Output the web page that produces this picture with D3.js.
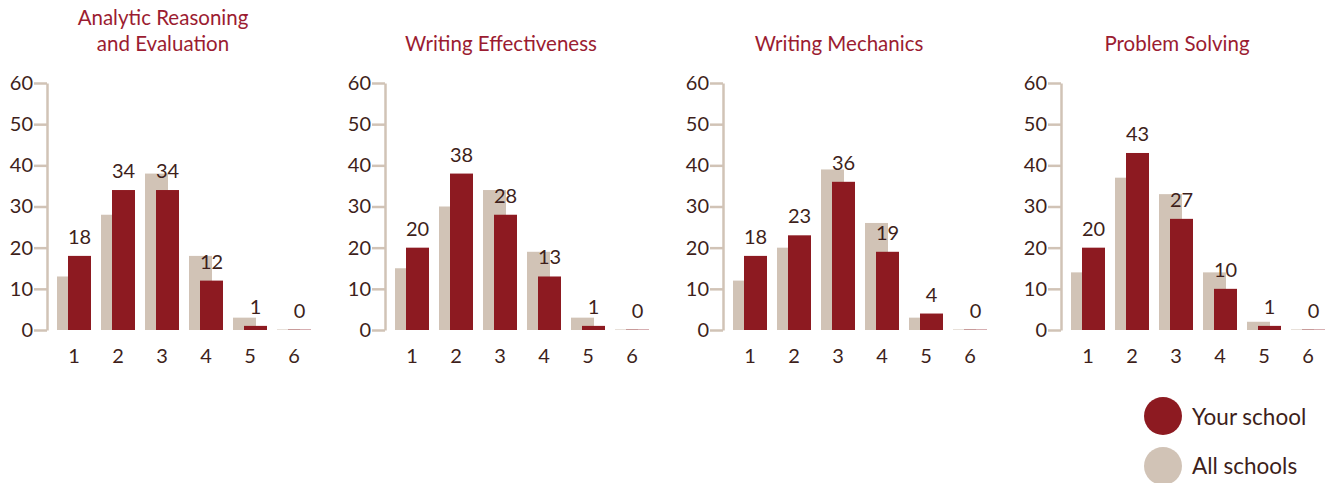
<!DOCTYPE html>
<html>
<head>
<meta charset="utf-8">
<script src="https://cdn.jsdelivr.net/npm/d3@7"></script>
<style>
  html, body { margin: 0; padding: 0; background: #ffffff; }
  svg { display: block; font-family: Lato, "Open Sans", sans-serif; }
</style>
</head>
<body>
<svg id="chart" width="1334" height="483"></svg>
<script>
// Score categories (1–6) and the percentage of students in each
const categories = ["1", "2", "3", "4", "5", "6"];
const panelTitles = [
  ["Analytic Reasoning", "and Evaluation"],
  ["Writing Effectiveness"],
  ["Writing Mechanics"],
  ["Problem Solving"]
];
const yourSchool = [
  [18, 34, 34, 12, 1, 0],
  [20, 38, 28, 13, 1, 0],
  [18, 23, 36, 19, 4, 0],
  [20, 43, 27, 10, 1, 0]
];
const allSchools = [
  [13, 28, 38, 18, 3, 0],
  [15, 30, 34, 19, 3, 0],
  [12, 20, 39, 26, 3, 0],
  [14, 37, 33, 14, 2, 0]
];
const yTicks = [0, 10, 20, 30, 40, 50, 60];
const legendLabels = ["Your school", "All schools"];

const RED = "#8d1a21";
const BEIGE = "#d1c3b6";
const INK = "#3e1f1b";
const TITLE = "#9b1c31";

const svg = d3.select("#chart");

const y = d3.scaleLinear().domain([0, 60]).range([330, 83]);
const panelStep = 338;
const firstAxisX = 47;
const barW = 23;
const redShift = 11;

panelTitles.forEach((title, i) => {
  const ax = firstAxisX + i * panelStep;
  const g = svg.append("g").attr("transform", `translate(${ax},0)`);

  // category bands: 44px step, 34px wide pair of overlapping bars
  const x = d3.scaleBand()
    .domain(categories)
    .range([5, 5 + 264])
    .paddingInner(10 / 44)
    .paddingOuter(5 / 44);

  // title
  const t = g.append("text")
    .attr("x", 116)
    .attr("text-anchor", "middle")
    .attr("fill", TITLE)
    .attr("font-size", 20.5);
  const lines = title.length === 1 ? [null, title[0]] : title;
  lines.forEach((ln, k) => {
    if (ln) t.append("tspan").attr("x", 116).attr("y", 25 + k * 26).text(ln);
  });

  // y axis
  const axis = d3.axisLeft(y).tickValues(yTicks).tickSize(13).tickSizeOuter(0).tickPadding(1);
  const ag = g.append("g").call(axis);
  ag.select(".domain").attr("stroke", BEIGE).attr("stroke-width", 2.5);
  ag.selectAll(".tick line").attr("stroke", BEIGE).attr("stroke-width", 2.5);
  ag.selectAll(".tick text").attr("fill", INK).attr("font-size", 20)
    .attr("font-family", "Lato, 'Open Sans', sans-serif");

  // all-schools bars (behind)
  g.selectAll(".all").data(allSchools[i]).join("rect")
    .attr("x", (d, j) => x(categories[j]))
    .attr("width", barW)
    .attr("y", d => d === 0 ? y(0) - 1 : y(d))
    .attr("height", d => d === 0 ? 1 : y(0) - y(d))
    .attr("fill", BEIGE)
    .attr("opacity", d => d === 0 ? 0.5 : 1);

  // your-school bars (front)
  g.selectAll(".your").data(yourSchool[i]).join("rect")
    .attr("x", (d, j) => x(categories[j]) + redShift)
    .attr("width", barW)
    .attr("y", d => d === 0 ? y(0) - 1 : y(d))
    .attr("height", d => d === 0 ? 1 : y(0) - y(d))
    .attr("fill", RED)
    .attr("opacity", d => d === 0 ? 0.35 : 1);

  // value labels above your-school bars
  g.selectAll(".val").data(yourSchool[i]).join("text")
    .attr("x", (d, j) => x(categories[j]) + redShift + barW / 2)
    .attr("y", d => y(d) - 12)
    .attr("text-anchor", "middle")
    .attr("fill", INK)
    .attr("font-size", 20)
    .text(d => d);

  // category labels
  g.selectAll(".cat").data(categories).join("text")
    .attr("x", c => x(c) + x.bandwidth() / 2)
    .attr("y", 363)
    .attr("text-anchor", "middle")
    .attr("fill", INK)
    .attr("font-size", 20)
    .text(c => c);
});

// legend
const legend = svg.append("g");
[RED, BEIGE].forEach((c, k) => {
  legend.append("circle").attr("cx", 1163).attr("cy", 416 + k * 50).attr("r", 19).attr("fill", c);
  legend.append("text").attr("x", 1192).attr("y", 425 + k * 49)
    .attr("fill", INK).attr("font-size", 22.5).text(legendLabels[k]);
});
</script>
</body>
</html>
